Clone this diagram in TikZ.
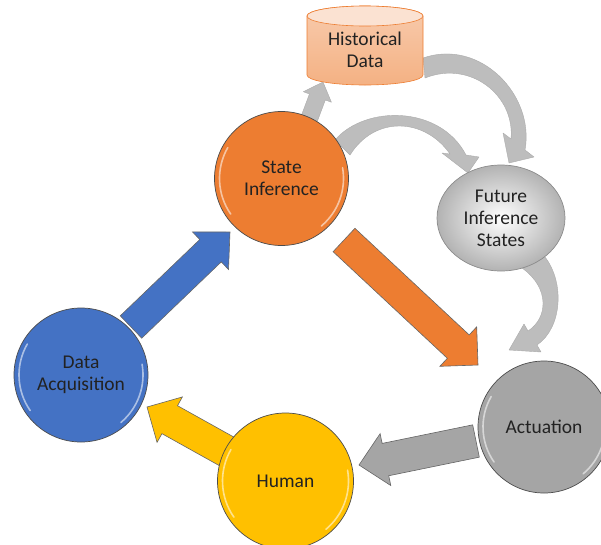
\documentclass[tikz,border=0pt]{standalone}
\usepackage{fontspec}
\setmainfont{Carlito}
\usetikzlibrary{calc,shapes.geometric,backgrounds}

\definecolor{accorange}{HTML}{ED7D31}
\definecolor{accblue}{HTML}{4472C4}
\definecolor{accgold}{HTML}{FFC000}
\definecolor{accgray}{HTML}{A5A5A5}
\definecolor{salmon}{HTML}{F4B183}
\definecolor{salmonlt}{HTML}{F8CBAD}
\definecolor{txt}{HTML}{222222}

\tikzset{
  lbl/.style={font=\fontsize{19.5}{22}\selectfont, text=txt, align=center},
  stage/.style={circle, lbl, draw=black!70, line width=0.7pt, inner sep=0pt, minimum size=#1},
  blockedge/.style={draw=black!60, line width=0.6pt, line join=miter},
  curvearrow/.style={fill=black!26, draw=black!33, line width=0.4pt, line join=round},
  bevelhl/.style={white, opacity=0.55, line width=1.6pt, line cap=round},
}

% block arrow: #1 tail, #2 tip, #3 half shaft width, #4 half head width, #5 head length, #6 style
\newcommand\blockarr[6]{%
  \coordinate (babase) at ($(#2)!#5!(#1)$);
  \path[#6] ($(#1)!#3!90:(#2)$) -- ($(babase)!#3!90:(#2)$) -- ($(babase)!#4!90:(#2)$)
    -- (#2) -- ($(babase)!#4!-90:(#2)$) -- ($(babase)!#3!-90:(#2)$)
    -- ($(#1)!#3!-90:(#2)$) -- cycle;}

% light rim highlights on a round stage
\newcommand\bevel[2]{%
  \draw[bevelhl] ($(#1.center)+(150:#2)$) arc[start angle=150, end angle=215, radius=#2];
  \draw[bevelhl] ($(#1.center)+(-50:#2)$) arc[start angle=-50, end angle=10, radius=#2];}

\begin{document}
\begin{tikzpicture}[x=1pt, y=-1pt]
\useasboundingbox (0,0) rectangle (601,544);

% stages
\node[stage=134pt, fill=accorange] (si) at (281.5,178.5) {State\\Inference};
\node[ellipse, lbl, draw=black!45, line width=0.7pt, inner sep=0pt,
      minimum width=128pt, minimum height=106pt,
      shading=radial, inner color=white, outer color=black!30, shade] (fis) at (501,218)
      {Future\\Inference\\States};
\node[stage=134pt, fill=accblue] (da) at (81,375) {Data\\Acquisition};
\node[stage=136pt, fill=accgold] (hu) at (285.5,481) {Human};
\node[stage=132pt, fill=accgray] (ac) at (544,427) {Actuation};
\node[lbl, minimum width=116pt, minimum height=79pt] (hd) at (365,50) {Historical\\Data};

\bevel{si}{62pt}
\bevel{da}{62pt}
\bevel{hu}{63pt}
\bevel{ac}{61pt}

\begin{scope}[on background layer]
  % curved connectors
  \path[curvearrow] (423,58) .. controls (480,38) and (535,95) .. (525,150)
    -- (534,157) -- (509,163) -- (503,133) -- (511,139)
    .. controls (515,95) and (470,60) .. (425,78) -- cycle;
  \path[curvearrow] (335,140) .. controls (365,105) and (440,105) .. (466,155)
    -- (479,157) -- (468,173) -- (442,153) -- (450,154)
    .. controls (425,118) and (375,115) .. (350,155) -- cycle;
  \path[curvearrow] (545,257) .. controls (565,283) and (562,328) .. (537,345)
    -- (541,352) -- (509,350) -- (524,324) -- (528,331)
    .. controls (548,318) and (550,288) .. (522,268) -- cycle;

  % straight connector to the data store
  \coordinate (aT) at ($(si)+(26.5,-56.5)$);
  \coordinate (aH) at ($(hd)+(-42,32)$);
  \blockarr{aT}{aH}{8.5pt}{15pt}{16pt}{curvearrow}

  % historical data store
  \shade[top color=salmonlt, bottom color=salmon, draw=accorange, line width=0.6pt]
    (307,16) -- (307,75) arc[start angle=180, end angle=360, x radius=58pt, y radius=10pt]
    -- (423,16) arc[start angle=0, end angle=180, x radius=58pt, y radius=10pt] -- cycle;
  \filldraw[fill=salmonlt!55!white, draw=accorange, line width=0.6pt]
    (365,16) ellipse [x radius=58pt, y radius=10pt];

  % main cycle
  \coordinate (bT) at ($(da)+(50,-48)$);
  \coordinate (bH) at ($(si)+(-51.5,53.5)$);
  \blockarr{bT}{bH}{15.5pt}{26pt}{27pt}{fill=accblue, blockedge}

  \coordinate (oT) at ($(si)+(62.5,61.5)$);
  \coordinate (oH) at ($(ac)+(-66,-62)$);
  \blockarr{oT}{oH}{16pt}{27pt}{27pt}{fill=accorange, blockedge}

  \coordinate (gT) at ($(ac)+(-68,14)$);
  \coordinate (gH) at ($(hu)+(73.5,-16)$);
  \blockarr{gT}{gH}{16.5pt}{26.5pt}{27pt}{fill=accgray, blockedge}

  \coordinate (yT) at ($(hu)+(-42.5,-20.5)$);
  \coordinate (yH) at ($(da)+(66,32)$);
  \blockarr{yT}{yH}{16pt}{26pt}{26pt}{fill=accgold, blockedge}
\end{scope}
\end{tikzpicture}
\end{document}
